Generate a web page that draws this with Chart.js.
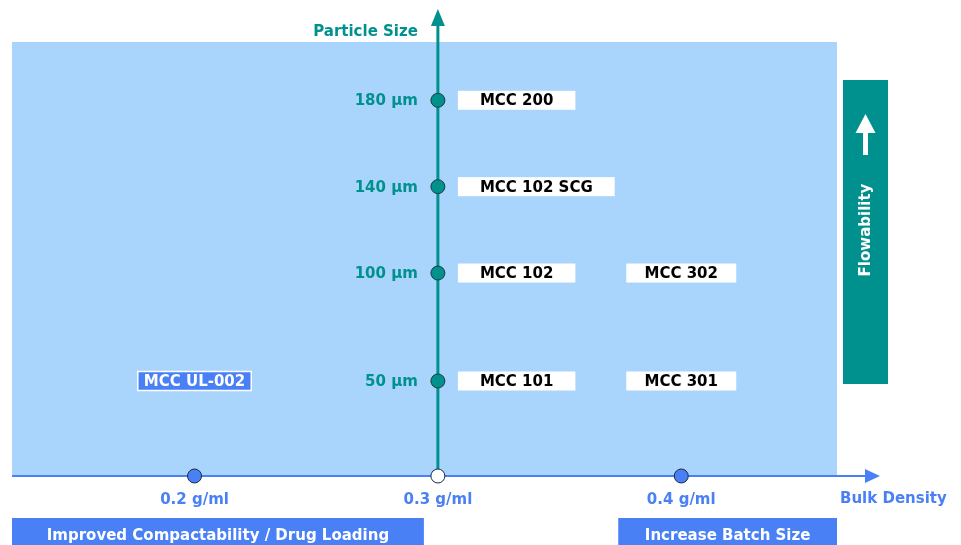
<!DOCTYPE html>
<html>
<head>
<meta charset="utf-8">
<script src="https://cdn.jsdelivr.net/npm/chart.js@4.4.1/dist/chart.umd.min.js"></script>
<style>
  html, body { margin: 0; padding: 0; background: #fff; }
  #wrap { width: 961px; height: 545px; }
</style>
</head>
<body>
<div id="wrap"><canvas id="chart"></canvas></div>
<script>
// ── Data ─────────────────────────────────────────────
const sizeTicks      = [50, 100, 140, 180];          // particle size, µm
const densityTicks   = [0.2, 0.3, 0.4];              // bulk density, g/ml
const productNames   = ["MCC 101", "MCC 102", "MCC 102 SCG", "MCC 200", "MCC 301", "MCC 302", "MCC UL-002"];
const productDensity = [0.3, 0.3, 0.3, 0.3, 0.4, 0.4, 0.2];
const productSize    = [50, 100, 140, 180, 50, 100, 50];
const bottomNotes    = ["Improved Compactability / Drug Loading", "Increase Batch Size"];
const sideNote       = "Flowability";

const AXIS_DENSITY = densityTicks[1];   // the vertical axis sits at 0.3 g/ml
const X_MIN = 0.125, X_MAX = 0.464;
const Y_MIN = 6, Y_MAX = 207;

const TEAL  = "#00918f";
const BLUE  = "#4a80f5";
const PALE  = "#a9d5fd";
const FONT  = "'DejaVu Sans', Verdana, sans-serif";
const BOLD  = `bold 15px ${FONT}`;

function boxText(ctx, text, cx, cy, w, h, fill, color, stroke) {
  ctx.fillStyle = fill;
  ctx.fillRect(cx - w / 2, cy - h / 2, w, h);
  if (stroke) {
    ctx.strokeStyle = stroke;
    ctx.lineWidth = 1.5;
    ctx.strokeRect(cx - w / 2, cy - h / 2, w, h);
  }
  ctx.fillStyle = color;
  ctx.textAlign = "center";
  ctx.textBaseline = "middle";
  ctx.fillText(text, cx, cy + 1);
}

// background, axes with arrows, tick labels of the size axis, product boxes, notes
const diagramPlugin = {
  id: "diagram",
  beforeDraw(chart) {
    const { ctx, chartArea: a } = chart;
    ctx.save();
    ctx.fillStyle = PALE;
    ctx.fillRect(a.left, a.top, a.right - a.left, a.bottom - a.top);
    ctx.restore();
  },
  beforeDatasetsDraw(chart) {
    const { ctx, chartArea: a } = chart;
    const xs = chart.scales.x, ys = chart.scales.y;
    const x0 = xs.getPixelForValue(AXIS_DENSITY);
    const y0 = ys.getPixelForValue(Y_MIN);
    ctx.save();

    // horizontal axis (bulk density)
    ctx.strokeStyle = BLUE; ctx.lineWidth = 2;
    ctx.beginPath(); ctx.moveTo(a.left, y0); ctx.lineTo(a.right + 30, y0); ctx.stroke();
    ctx.fillStyle = BLUE;
    ctx.beginPath(); ctx.moveTo(a.right + 43, y0); ctx.lineTo(a.right + 28, y0 - 7); ctx.lineTo(a.right + 28, y0 + 7); ctx.closePath(); ctx.fill();

    // vertical axis (particle size)
    ctx.strokeStyle = TEAL; ctx.lineWidth = 3;
    ctx.beginPath(); ctx.moveTo(x0, y0); ctx.lineTo(x0, 24); ctx.stroke();
    ctx.fillStyle = TEAL;
    ctx.beginPath(); ctx.moveTo(x0, 9); ctx.lineTo(x0 - 7, 26); ctx.lineTo(x0 + 7, 26); ctx.closePath(); ctx.fill();

    ctx.font = BOLD;
    ctx.textBaseline = "middle";

    // size tick labels, left of the vertical axis
    ctx.fillStyle = TEAL; ctx.textAlign = "right";
    ys.ticks.forEach(t => ctx.fillText(t.value + " µm", x0 - 20, ys.getPixelForValue(t.value) + 1));

    // axis titles
    ctx.fillText("Particle Size", x0 - 20, 32);
    ctx.fillStyle = BLUE; ctx.textAlign = "left";
    ctx.fillText("Bulk Density", a.right + 3, y0 + 23);

    // product labels
    productNames.forEach((name, i) => {
      const px = xs.getPixelForValue(productDensity[i]);
      const py = ys.getPixelForValue(productSize[i]);
      const tw = ctx.measureText(name).width;
      if (productDensity[i] === AXIS_DENSITY) {
        const w = Math.max(110, tw + 44);
        boxText(ctx, name, px + 20 + w / 2, py, w, 19, "#fff", "#000");
      } else if (productDensity[i] < AXIS_DENSITY) {
        boxText(ctx, name, px, py, tw + 12, 19, BLUE, "#fff", "#fff");
      } else {
        boxText(ctx, name, px, py, 110, 19, "#fff", "#000");
      }
    });

    // flowability panel
    const pTop = a.top + 38, pBot = a.top + 342;
    const pL = a.right + 6, pW = 45, pc = pL + pW / 2;
    ctx.fillStyle = TEAL;
    ctx.fillRect(pL, pTop, pW, pBot - pTop);
    ctx.fillStyle = "#fff";
    ctx.beginPath(); ctx.moveTo(pc, pTop + 34); ctx.lineTo(pc - 10, pTop + 53); ctx.lineTo(pc + 10, pTop + 53); ctx.closePath(); ctx.fill();
    ctx.fillRect(pc - 2.5, pTop + 52, 5, 23);
    ctx.save();
    ctx.translate(pc, pTop + 150);
    ctx.rotate(-Math.PI / 2);
    ctx.textAlign = "center";
    ctx.fillText(sideNote, 0, 1);
    ctx.restore();

    // bottom notes
    boxText(ctx, bottomNotes[0], (a.left + x0 - 14) / 2, 535, x0 - 14 - a.left, 34, BLUE, "#fff");
    const l2 = xs.getPixelForValue(densityTicks[2]) - 63;
    boxText(ctx, bottomNotes[1], (l2 + a.right) / 2, 535, a.right - l2, 34, BLUE, "#fff");
    ctx.restore();
  }
};

new Chart(document.getElementById("chart"), {
  type: "scatter",
  data: {
    datasets: [
      {
        data: sizeTicks.map(s => ({ x: AXIS_DENSITY, y: s })),
        backgroundColor: TEAL,
        borderColor: "#1c3b3b",
        borderWidth: 1,
        pointRadius: 7,
        clip: false,
      },
      {
        data: densityTicks.map(d => ({ x: d, y: Y_MIN })),
        backgroundColor: densityTicks.map(d => d === AXIS_DENSITY ? "#fff" : BLUE),
        borderColor: "#1c2b3b",
        borderWidth: 1,
        pointRadius: 7,
        clip: false,
      }
    ]
  },
  plugins: [diagramPlugin],
  options: {
    responsive: true,
    maintainAspectRatio: false,
    animation: false,
    layout: { padding: { left: 12, right: 124, top: 42, bottom: 69 } },
    plugins: { legend: { display: false }, tooltip: { enabled: false } },
    scales: {
      x: {
        type: "linear",
        min: X_MIN, max: X_MAX,
        position: { y: Y_MIN },
        grid: { display: false, drawTicks: false },
        border: { display: false },
        afterBuildTicks(axis) { axis.ticks = densityTicks.map(v => ({ value: v })); },
        ticks: {
          color: BLUE, padding: 15,
          font: { family: FONT, size: 15, weight: "bold" },
          callback: v => v.toFixed(1) + " g/ml",
        },
      },
      y: {
        type: "linear",
        min: Y_MIN, max: Y_MAX,
        position: { x: AXIS_DENSITY },
        grid: { display: false, drawTicks: false },
        border: { display: false },
        afterBuildTicks(axis) { axis.ticks = sizeTicks.map(v => ({ value: v })); },
        ticks: { display: false },
      }
    }
  }
});
</script>
</body>
</html>
